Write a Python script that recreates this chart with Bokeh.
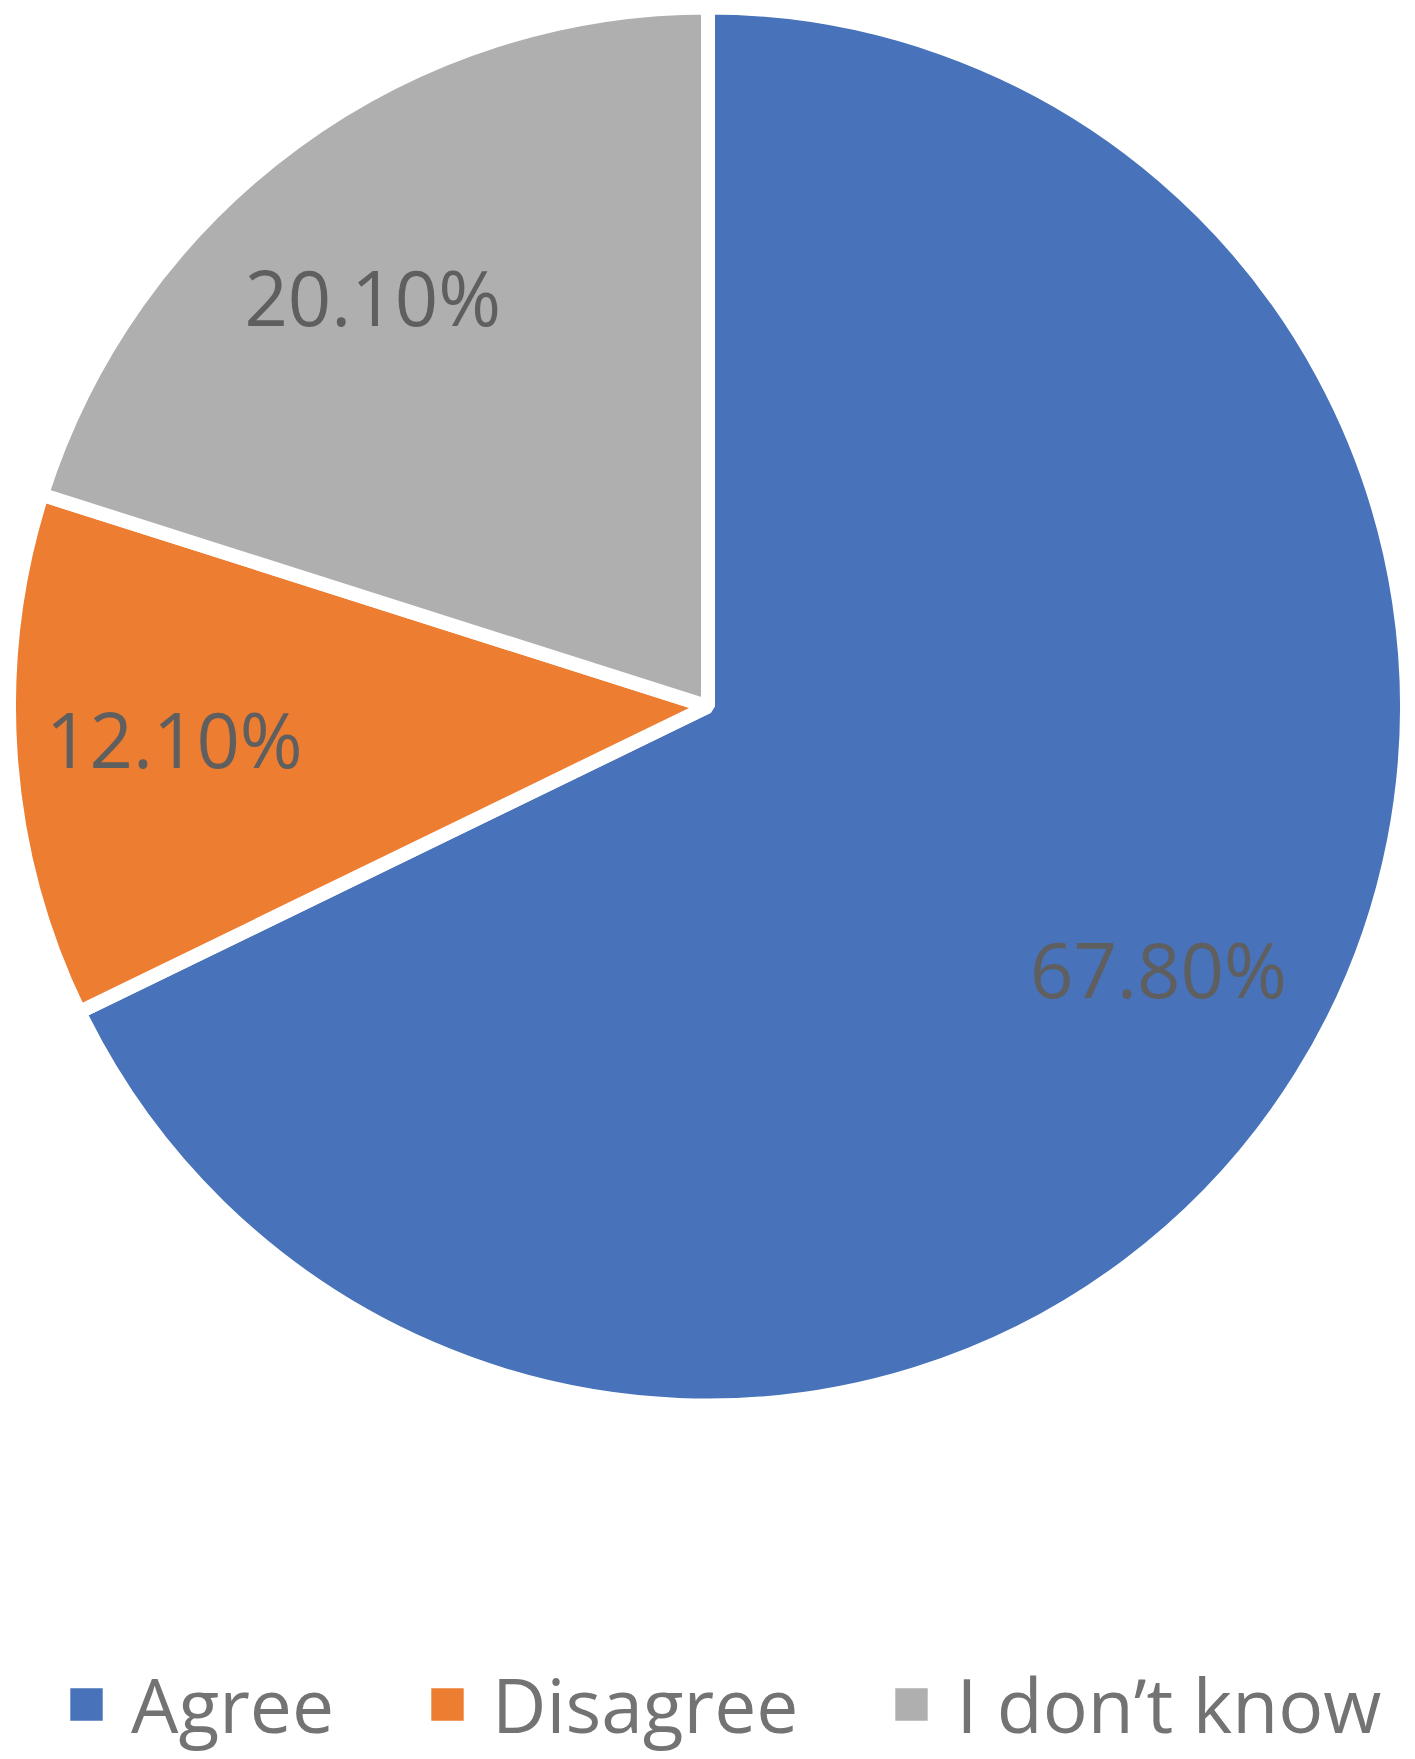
import math
from bokeh.plotting import figure
from bokeh.models import ColumnDataSource, Legend, LegendItem, Range1d
from bokeh.core.properties import value
from bokeh.embed import file_html
from bokeh.resources import INLINE

categories = ["Agree", "Disagree", "I don\u2019t know"]
percents = [67.8, 12.1, 20.1]
labels = ["67.80%", "12.10%", "20.10%"]
colors = ["#4872B9", "#ED7D31", "#AFAFAF"]

W, H = 1415, 1759
p = figure(width=W, height=H, output_backend="svg", toolbar_location=None,
           x_range=Range1d(0, W), y_range=Range1d(0, H), min_border=0)
p.axis.visible = False
p.grid.visible = False
p.outline_line_color = None
p.background_fill_color = "white"

cx, cy = 707.5, 1053.0
R = 699.0
label_r = 529.0
# small layout nudges (screen px, x right / y up) for label placement
nudges = [(2, 15), (-6, 2), (-23, -20.5)]
baseline_shift = 4.0

total = sum(percents)
starts, ends, lx, ly = [], [], [], []
cum = 0.0
for v, (nx, ny) in zip(percents, nudges):
    a_top = math.pi / 2 - 2 * math.pi * cum / total
    cum += v
    a_bot = math.pi / 2 - 2 * math.pi * cum / total
    starts.append(a_bot)
    ends.append(a_top)
    mid = (a_top + a_bot) / 2
    lx.append(cx + label_r * math.cos(mid) + nx)
    ly.append(cy + label_r * math.sin(mid) + ny + baseline_shift)

src = ColumnDataSource(dict(cat=categories, pct=percents, start=starts, end=ends,
                            color=colors, lab=labels, lx=lx, ly=ly))

w = p.wedge(x=cx, y=cy, radius=R, start_angle="start", end_angle="end",
            fill_color="color", line_color="white", line_width=14, source=src)

p.text(x="lx", y="ly", text="lab", source=src, text_align="center",
       text_baseline="alphabetic", text_font=value("Open Sans"),
       text_font_size=value("76px"), text_color="#5F5F5F")

items = [LegendItem(label=c, renderers=[w], index=i) for i, c in enumerate(categories)]
legend = Legend(items=items, orientation="horizontal", location=(57, 4),
                glyph_width=58, glyph_height=58, label_standoff=16, spacing=84,
                padding=0, margin=0, border_line_alpha=0, background_fill_alpha=0,
                label_text_font="Open Sans", label_text_font_size="75px",
                label_text_color="#737373")
p.add_layout(legend)

open("out.html", "w").write(file_html(p, INLINE))
